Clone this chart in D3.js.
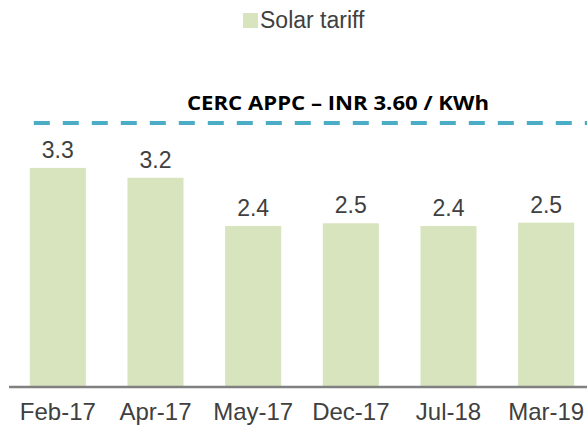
<!DOCTYPE html>
<html>
<head>
<meta charset="utf-8">
<script src="https://cdn.jsdelivr.net/npm/d3@7"></script>
<style>
    body { margin: 0; background: #fff; }
    svg { display: block; font-family: "Liberation Sans", Arial, sans-serif; }
</style>
</head>
<body>
<div class="chart-ctn"></div>
<script>
const periods = ['Feb-17', 'Apr-17', 'May-17', 'Dec-17', 'Jul-18', 'Mar-19'];
const solarTariff = [3.32, 3.17, 2.44, 2.48, 2.44, 2.49];
const seriesName = 'Solar tariff';
const refLabel = 'CERC APPC \u2013 INR 3.60 / KWh';
const yMax = 4;

const w = 587, h = 428;
const margin = { left: 9, right: -8, top: 123, bottom: 41 };

let svg = d3.select('.chart-ctn')
    .append('svg')
    .attr('width', w)
    .attr('height', h);

let x = d3.scaleBand()
    .domain(periods)
    .range([margin.left, w - margin.right])
    .paddingInner(0.426)
    .paddingOuter(0.213);

let y = d3.scaleLinear()
    .domain([0, yMax])
    .range([h - margin.bottom, margin.top]);

// bars
svg.selectAll('rect.bar')
    .data(solarTariff)
    .join('rect')
    .attr('class', 'bar')
    .attr('x', (d, i) => x(periods[i]))
    .attr('y', d => y(d))
    .attr('width', x.bandwidth())
    .attr('height', d => y(0) - y(d))
    .attr('fill', '#d7e4bd');

// value labels
svg.selectAll('text.val')
    .data(solarTariff)
    .join('text')
    .attr('class', 'val')
    .attr('x', (d, i) => x(periods[i]) + x.bandwidth() / 2)
    .attr('y', d => y(d) - 10)
    .attr('text-anchor', 'middle')
    .attr('font-size', 23)
    .attr('fill', '#404040')
    .text(d => d.toFixed(1));

// x axis
const xAxis = d3.axisBottom(x).tickSize(0).tickPadding(16);
let gx = svg.append('g')
    .attr('transform', 'translate(0,' + y(0) + ')')
    .call(xAxis);
gx.select('.domain')
    .attr('d', 'M' + margin.left + ',0H' + w)
    .attr('stroke', '#808080')
    .attr('stroke-width', 2.5);
gx.selectAll('text')
    .attr('font-size', 24)
    .attr('font-family', '"Liberation Sans", Arial, sans-serif')
    .attr('fill', '#404040');

// reference line (APPC) at top of plot
svg.append('line')
    .attr('x1', x(periods[0]) + 4)
    .attr('x2', w)
    .attr('y1', y(yMax))
    .attr('y2', y(yMax))
    .attr('stroke', '#4bacc6')
    .attr('stroke-width', 4)
    .attr('stroke-dasharray', '16 13');

svg.append('text')
    .attr('x', 338)
    .attr('y', y(yMax) - 13)
    .attr('text-anchor', 'middle')
    .attr('font-family', '"Open Sans", sans-serif')
    .attr('font-weight', 'bold')
    .attr('font-size', 19)
    .attr('textLength', 302)
    .attr('lengthAdjust', 'spacingAndGlyphs')
    .attr('fill', '#000')
    .text(refLabel);

// legend
let legend = svg.append('g').attr('transform', 'translate(243,13)');
legend.append('rect')
    .attr('width', 15)
    .attr('height', 15)
    .attr('fill', '#d7e4bd');
legend.append('text')
    .attr('x', 17)
    .attr('y', 15)
    .attr('font-size', 23)
    .attr('fill', '#404040')
    .text(seriesName);
</script>
</body>
</html>
